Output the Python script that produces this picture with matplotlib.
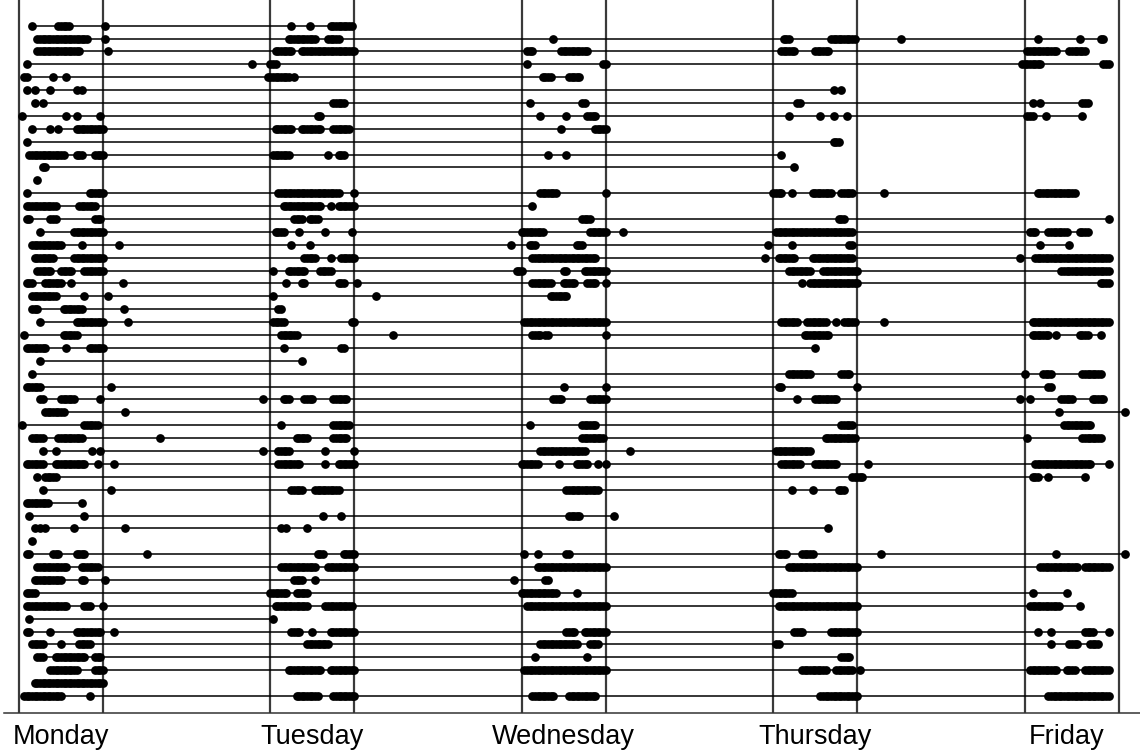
import matplotlib
matplotlib.use("Agg")
import matplotlib.pyplot as plt

days = ["Monday", "Tuesday", "Wednesday", "Thursday", "Friday"]
day_start = [9, 9, 9, 9, 9]       # office hours, vertical guide lines
day_end = [17, 17, 17, 17, 18]
label_hour = 13

# activity per person and day: one block per hour from 8:00 to 17:00,
# one character per quarter hour, "o" = activity logged
monday = [
    ".... .... .o.. .... ...o oooo .... .... .... .o..",  # 1
    ".... .... ...o oooo oooo oooo oooo ooo. .... .o..",  # 2
    ".... .... ...o oooo oooo oooo oooo .... .... ..o.",  # 3
    ".... ...o .... .... .... .... .... .... .... ....",  # 4
    ".... ..oo .... .... .o.. ..o. .... .... .... ....",  # 5
    ".... ...o ..o. .... o... .... ..o. o... .... ....",  # 6
    ".... .... ..o. .o.. .... .... .... .... .... ....",  # 7
    ".... .o.. .... .... .... ..o. ..o. .... ...o ....",  # 8
    ".... .... .o.. .... o..o .... ..oo oooo oooo o...",  # 9
    ".... ...o .... .... .... .... .... .... .... ....",  # 10
    ".... .... oooo oooo oooo oo.. ..oo o... .ooo o...",  # 11
    ".... .... .... .oo. .... .... .... .... .... ....",  # 12
    ".... .... ...o .... .... .... .... .... .... ....",  # 13
    ".... ...o .... .... .... .... .... ...o oooo o...",  # 14
    ".... ...o oooo oooo ooo. .... ...o oooo oo.. ....",  # 15
    ".... ...o o... .... ooo. .... .... .... .ooo ....",  # 16
    ".... .... .... o... .... .... .ooo oooo oooo o...",  # 17
    ".... .... .ooo oooo oooo o... .... o... .... ....",  # 18
    ".... .... ..oo oooo oo.. .... .ooo oooo oooo o...",  # 19
    ".... .... ...o oooo o... oooo o... .ooo oooo o...",  # 20
    ".... ...o oo.. ..oo oooo o... o... .... .... ....",  # 21
    ".... .... .ooo oooo ooo. .... .... .o.. .... ..o.",  # 22
    ".... .... .ooo .... .... .ooo oooo o... .... ....",  # 23
    ".... .... .... o... .... .... ..oo oooo oooo o...",  # 24
    ".... ..o. .... .... .... .ooo ooo. .... .... ....",  # 25
    ".... ...o oooo ooo. .... ..o. .... ...o oooo o...",  # 26
    ".... .... .... o... .... .... .... .... .... ....",  # 27
    ".... .... .o.. .... .... .... .... .... .... ....",  # 28
    ".... ...o oooo o... .... .... .... .... .... ...o",  # 29
    ".... .... .... oo.. .... oooo oo.. .... ...o ....",  # 30
    ".... .... .... ..oo oooo oo.. .... .... .... ....",  # 31
    ".... .o.. .... .... .... .... .... .ooo ooo. ....",  # 32
    ".... .... .ooo oo.. ...o oooo oooo o... .... ....",  # 33
    ".... .... .... .o.. ..o. .... .... .... o..o ....",  # 34
    ".... ...o oooo oo.. ..oo oooo oooo oo.. ..o. ....",  # 35
    ".... .... ...o ..oo ooo. .... .... .... .... ....",  # 36
    ".... .... .... .o.. .... .... .... .... .... ...o",  # 37
    ".... ...o oooo oooo .... .... .... o... .... ....",  # 38
    ".... .... o... .... .... .... .... .o.. .... ....",  # 39
    ".... .... ..o. o.o. .... .... .o.. .... .... ....",  # 40
    ".... .... .o.. .... .... .... .... .... .... ....",  # 41
    ".... ...o o... .... .ooo .... ..oo oo.. .... ....",  # 42
    ".... .... ...o oooo oooo ooo. .... oooo ooo. ....",  # 43
    ".... .... ..oo oooo oooo o... .... oo.. .... .o..",  # 44
    ".... ...o ooo. .... .... .... .... .... .... ....",  # 45
    ".... ...o oooo oooo oooo ooo. .... .ooo .... o...",  # 46
    ".... .... o... .... .... .... .... .... .... ....",  # 47
    ".... ...o o... .... o... .... ..oo oooo oooo ....",  # 48
    ".... .... .ooo oo.. .... o... ...o oooo .... ....",  # 49
    ".... .... ...o oo.. ..oo oooo oooo oo.. .ooo ....",  # 50
    ".... .... .... .... oooo oooo ooo. .... .ooo o...",  # 51
    ".... .... ..oo oooo oooo oooo oooo oooo oooo o...",  # 52
    ".... ..oo oooo oooo oooo o... .... ...o .... ....",  # 53
]

tuesday = [
    ".... .... .... o... ...o .... ...o oooo oooo ....",  # 1
    ".... .... ...o oooo oooo oo.. ..oo ooo. .... ....",  # 2
    ".... ..oo oooo o... oooo oooo oooo oooo oooo o...",  # 3
    ".... ooo. .... .... .... .... .... .... .... ....",  # 4
    "...o oooo oooo .o.. .... .... .... .... .... ....",  # 5
    "",  # 6
    ".... .... .... .... .... .... .... oooo o... ....",  # 7
    ".... .... .... .... .... ..oo .... .... .... ....",  # 8
    ".... ..oo oooo o... oooo oooo .... oooo ooo. ....",  # 9
    "",  # 10
    ".... .ooo oooo .... .... .... ..o. ..oo o... ....",  # 11
    "",  # 12
    "",  # 13
    ".... ...o oooo oooo oooo oooo oooo ooo. .... o...",  # 14
    ".... .... .ooo oooo oooo oooo ...o ..oo oooo o...",  # 15
    ".... .... .... .ooo o..o ooo. .... .... .... ....",  # 16
    ".... ..oo oo.. ...o .... .... .o.. .... ...o ....",  # 17
    ".... .... .... o... ...o .... .... .... .... ....",  # 18
    ".... .... .... .... .ooo oo.. ...o ...o oooo o...",  # 19
    ".... .o.. ...o oooo oo.. ...o oooo .... .... ....",  # 20
    ".... .... ..o. .... oo.. .... .... ..oo o... .o..",  # 21
    ".... .o.. .... .... .... .... .... .... .... ....",  # 22
    ".... ...o o... .... .... .... .... .... .... ....",  # 23
    ".... .ooo oo.. .... .... .... .... .... ...o o...",  # 24
    ".... .... oooo ooo. .... .... .... .... .... ....",  # 25
    ".... .... .o.. .... .... .... .... ...o o... ....",  # 26
    ".... .... .... .... o... .... .... .... .... ....",  # 27
    "",  # 28
    "",  # 29
    ".o.. .... .ooo .... .ooo o... .... oooo oo.. ....",  # 30
    "",  # 31
    ".... .... o... .... .... .... .... oooo ooo. ....",  # 32
    ".... .... .... ..oo ooo. .... .... oooo oo.. ....",  # 33
    ".o.. ...o oooo .... .... .... .o.. .... .... o...",  # 34
    ".... ...o oooo oooo .... .... .o.. ..oo oooo o...",  # 35
    "",  # 36
    ".... .... .... oooo o... .ooo oooo ooo. .... ....",  # 37
    "",  # 38
    ".... .... .... .... .... .... o... ...o .... ....",  # 39
    ".... .... o.o. .... ..o. .... .... .... .... ....",  # 40
    "",  # 41
    ".... .... .... .... .... ..oo o... .... oooo o...",  # 42
    ".... .... oooo oooo oooo oo.. ..oo oooo oooo o...",  # 43
    ".... .... .... .ooo o... .o.. .... .... .... ....",  # 44
    ".... oooo ooo. ..oo ooo. .... .... .... .... ....",  # 45
    ".... ..oo oooo oooo ooo. .... .ooo oooo oooo ....",  # 46
    ".... .o.. .... .... .... .... .... .... .... ....",  # 47
    ".... .... .... oooo .... o... ...o oooo oooo o...",  # 48
    ".... .... .... .... ..oo oooo ooo. .... .... ....",  # 49
    "",  # 50
    ".... .... ...o oooo oooo oooo ...o oooo oooo o...",  # 51
    "",  # 52
    ".... .... .... ..oo oooo ooo. .... oooo oooo o...",  # 53
]

wednesday = [
    "",  # 1
    ".... .... .... .... o... .... .... .... .... ....",  # 2
    ".... ..oo o... .... ...o oooo oooo oo.. .... ....",  # 3
    ".... ..o. .... .... .... .... .... .... ...o o...",  # 4
    ".... .... .... oooo .... ..oo ooo. .... .... ....",  # 5
    "",  # 6
    ".... ...o .... .... .... .... ...o o... .... ....",  # 7
    ".... .... ...o .... .... .o.. .... .ooo o... ....",  # 8
    ".... .... .... .... ...o .... .... .... oooo o...",  # 9
    "",  # 10
    ".... .... .... ..o. .... .o.. .... .... .... ....",  # 11
    "",  # 12
    "",  # 13
    ".... .... ...o oooo oo.. .... .... .... .... o...",  # 14
    ".... .... o... .... .... .... .... .... .... ....",  # 15
    ".... .... .... .... .... .... ...o ooo. .... ....",  # 16
    ".... oooo oooo o... .... .... .... ..oo oooo o...",  # 17
    "o... ...o oo.. .... .... .... .ooo .... .... ....",  # 18
    ".... .... oooo oooo oooo oooo oooo oooo o... ....",  # 19
    "..oo o... .... .... .... oo.. .... oooo oooo o...",  # 20
    ".... .... oooo oooo .... oooo o... .ooo o... o...",  # 21
    ".... .... .... ...o oooo oo.. .... .... .... ....",  # 22
    "",  # 23
    ".... .ooo oooo oooo oooo oooo oooo oooo oooo o...",  # 24
    ".... .... oooo .oo. .... .... .... .... .... o...",  # 25
    "",  # 26
    "",  # 27
    "",  # 28
    ".... .... .... .... .... o... .... .... .... o...",  # 29
    ".... .... .... .... oooo .... .... ..oo oooo o...",  # 30
    "",  # 31
    ".... ...o .... .... .... .... ...o oooo o... ....",  # 32
    ".... .... .... .... .... .... ...o oooo oooo ....",  # 33
    ".... .... ...o oooo oooo oooo oooo o... .... ....",  # 34
    ".... oooo ooo. .... ..o. .... .ooo oo.. .o.. o...",  # 35
    "",  # 36
    ".... .... .... .... .... .ooo oooo oooo oo.. ....",  # 37
    "",  # 38
    ".... .... .... .... .... ..oo ooo. .... .... ...o",  # 39
    "",  # 40
    "",  # 41
    ".... .o.. ..o. .... .... .oo. .... .... .... ....",  # 42
    ".... .... ..oo oooo oooo oooo oooo oooo oooo o...",  # 43
    ".o.. .... .... .oo. .... .... .... .... .... ....",  # 44
    ".... oooo oooo oooo oo.. .... .o.. .... .... ....",  # 45
    ".... ..oo oooo oooo oooo oooo oooo oooo oooo o...",  # 46
    "",  # 47
    ".... .... .... .... .... .ooo o... oooo oooo o...",  # 48
    ".... .... ...o oooo oooo oooo oo.. ..oo oo.. ....",  # 49
    ".... .... .o.. .... .... .... .... .o.. .... ....",  # 50
    ".... .ooo oooo oooo oooo oooo oooo oooo oooo o...",  # 51
    "",  # 52
    ".... .... oooo oooo o... ..oo oooo oooo o... ....",  # 53
]

thursday = [
    "",  # 1
    ".... .... ooo. .... .... .... ..oo oooo oooo ....",  # 2
    ".... ...o oooo o... .... oooo oo.. .... .... ....",  # 3
    "",  # 4
    "",  # 5
    ".... .... .... .... .... .... ...o ..o. .... ....",  # 6
    ".... .... .... .oo. .... .... .... .... .... ....",  # 7
    ".... .... ..o. .... .... ..o. ...o .... o... ....",  # 8
    "",  # 9
    ".... .... .... .... .... .... ...o oo.. .... ....",  # 10
    ".... ...o .... .... .... .... .... .... .... ....",  # 11
    ".... .... .... o... .... .... .... .... .... ....",  # 12
    "",  # 13
    ".... oooo ...o .... ...o oooo ooo. ..oo ooo. ....",  # 14
    "",  # 15
    ".... .... .... .... .... .... .... .ooo .... ....",  # 16
    ".... .ooo oooo oooo oooo oooo oooo oooo ooo. ....",  # 17
    "..o. .... ...o .... .... .... .... .... .oo. ....",  # 18
    ".o.. ..oo oooo o... ...o oooo oooo oooo ooo. ....",  # 19
    ".... .... ..oo oooo ooo. ...o oooo oooo oooo o...",  # 20
    ".... .... .... ...o ..oo oooo oooo oooo oooo o...",  # 21
    "",  # 22
    "",  # 23
    ".... ...o oooo oo.. .ooo oooo o... o..o oooo ....",  # 24
    ".... .... .... .... oooo oooo oo.. .... .... ....",  # 25
    ".... .... .... .... .... o... .... .... .... ....",  # 26
    "",  # 27
    ".... .... ..oo oooo ooo. .... .... ..oo oo.. ....",  # 28
    ".... ..oo .... .... .... .... .... .... .... o...",  # 29
    ".... .... .... .o.. .... oooo oooo o... .... ....",  # 30
    "",  # 31
    ".... .... .... .... .... .... .... ..oo ooo. ....",  # 32
    ".... .... .... .... .... .... oooo oooo oooo ....",  # 33
    ".... .ooo oooo oooo ooo. .... .... .... .... ....",  # 34
    ".... ...o oooo ooo. .... oooo oooo o... .... ....",  # 35
    ".... .... .... .... .... .... .... .... ..oo ooo.",  # 36
    ".... .... ...o .... ...o .... .... .ooo .... ....",  # 37
    "",  # 38
    "",  # 39
    ".... .... .... .... .... .... .o.. .... .... ....",  # 40
    "",  # 41
    ".... ..oo oo.. ...o oooo .... .... .... .... ....",  # 42
    ".... .... ..oo oooo oooo oooo oooo oooo oooo o...",  # 43
    "",  # 44
    ".... oooo oooo .... .... .... .... .... .... ....",  # 45
    ".... ..oo oooo oooo oooo oooo oooo oooo oooo o...",  # 46
    "",  # 47
    ".... .... .... oooo .... .... ..oo oooo oooo o...",  # 48
    ".... .oo. .... .... .... .... .... .... .... ....",  # 49
    ".... .... .... .... .... .... .... ..oo oo.. ....",  # 50
    ".... .... .... ...o oooo oooo o... oooo ooo. .o..",  # 51
    "",  # 52
    ".... .... .... .... .... ..oo oooo oooo oooo o...",  # 53
]

friday = [
    "",  # 1
    ".... .... .o.. .... .... .... .o.. .... .oo. ....",  # 2
    ".... .ooo oooo oooo o... .ooo oooo .... .... ....",  # 3
    "...o oooo ooo. .... .... .... .... .... ..oo o...",  # 4
    "",  # 5
    "",  # 6
    ".... ...o ..o. .... .... .... ..oo o... .... ....",  # 7
    ".... .ooo .... o... .... .... ..o. .... .... ....",  # 8
    "",  # 9
    "",  # 10
    "",  # 11
    "",  # 12
    "",  # 13
    ".... .... .ooo oooo oooo oooo .... .... .... ....",  # 14
    "",  # 15
    ".... .... .... .... .... .... .... .... .... o...",  # 16
    ".... ..oo o... .ooo oooo o... .ooo o... .... ....",  # 17
    ".... .... ..o. .... .... .o.. .... .... .... ....",  # 18
    "..o. .... oooo oooo oooo oooo oooo oooo oooo o...",  # 19
    ".... .... .... .... ..oo oooo oooo oooo oooo o...",  # 20
    ".... .... .... .... .... .... .... .... .ooo o...",  # 21
    "",  # 22
    "",  # 23
    ".... ...o oooo oooo oooo oooo oooo oooo oooo o...",  # 24
    ".... ...o oooo oo.. o... .... .ooo o... .o.. ....",  # 25
    "",  # 26
    "",  # 27
    ".... o... ...o ooo. .... .... ..oo oooo oo.. ....",  # 28
    ".... .... .... .oo. .... .... .... .... .... ....",  # 29
    "..o. ..o. .... .... ..oo ooo. .... ..oo ooo. ....",  # 30
    ".... .... .... .... .o.. .... .... .... .... ....",  # 31
    ".... .... .... .... ...o oooo oooo oo.. .... ....",  # 32
    ".... .o.. .... .... .... .... ..oo oooo oo.. ....",  # 33
    "",  # 34
    ".... .... oooo oooo oooo oooo oooo oo.. .... o...",  # 35
    ".... ...o oo.. .o.. .... .... ...o .... .... ....",  # 36
    "",  # 37
    "",  # 38
    "",  # 39
    "",  # 40
    "",  # 41
    ".... .... .... .... o... .... .... .... .... ....",  # 42
    ".... .... ..oo oooo oooo oooo o..o oooo oooo o...",  # 43
    "",  # 44
    ".... ...o .... .... .... o... .... .... .... ....",  # 45
    ".... ..oo oooo oooo oo.. .... .o.. .... .... ....",  # 46
    "",  # 47
    ".... .... .o.. ..o. .... .... ...o ooo. .... o...",  # 48
    ".... .... .... ..o. .... .ooo o... .ooo o... ....",  # 49
    "",  # 50
    ".... ..oo oooo oooo o... oooo ...o oooo oooo o...",  # 51
    "",  # 52
    ".... .... .... .ooo oooo oooo oooo oooo oooo o...",  # 53
]

# single events outside the 8:00-18:00 grid
extra_person = [18, 21, 23, 24, 31, 33, 35, 40, 42, 48, 4, 22, 25, 17, 34, 2, 14, 24, 35, 42, 31, 42]
extra_day = [0, 0, 0, 0, 0, 0, 0, 0, 0, 0, 1, 1, 1, 2, 2, 3, 3, 3, 3, 3, 4, 4]
extra_hour = [18.5, 18.9, 19.0, 19.4, 19.1, 22.5, 18.1, 19.1, 21.2, 18.1,
              7.2, 19.1, 20.7, 18.7, 19.3, 21.2, 19.6, 19.6, 18.0, 19.3, 18.6, 18.6]

grid_start = 8.0
step = 0.25

# hours since monday 00:00 for every event of every person
events = {}
for d, week_day in enumerate([monday, tuesday, wednesday, thursday, friday]):
    for p, s in enumerate(week_day):
        s = s.replace(" ", "")
        if s and len(s) != 40:
            print("bad length", days[d], p + 1, len(s))
        for i, c in enumerate(s):
            if c == "o":
                events.setdefault(p + 1, []).append(d * 24 + grid_start + i * step)
for p, d, h in zip(extra_person, extra_day, extra_hour):
    events.setdefault(p, []).append(d * 24 + h)

fig = plt.figure(figsize=(11.4, 7.56), dpi=100)
ax = fig.add_axes([4 / 1140, 43 / 756, 1136 / 1140, 713 / 756])

for d in range(len(days)):
    ax.axvline(d * 24 + day_start[d], color="#3a3a3a", lw=1.6, zorder=1)
    ax.axvline(d * 24 + day_end[d], color="#3a3a3a", lw=1.6, zorder=1)

for p, times in events.items():
    times = sorted(times)
    ax.plot([times[0], times[-1]], [p, p], color="black", lw=1.1, zorder=2)
    ax.plot(times, [p] * len(times), "o", ms=6.3, color="black", mew=0, zorder=3)

ax.set_xlim(7.57, 116.0)
ax.set_ylim(54.32, -0.99)
ax.set_xticks([d * 24 + label_hour for d in range(len(days))])
ax.set_xticklabels(days, fontsize=19.5, family="Liberation Sans")
ax.tick_params(axis="x", length=0, pad=8)
ax.set_yticks([])
for side in ["top", "left", "right"]:
    ax.spines[side].set_visible(False)
ax.spines["bottom"].set_color("#333333")
ax.spines["bottom"].set_linewidth(1.1)

fig.savefig("out.png", dpi=100)
